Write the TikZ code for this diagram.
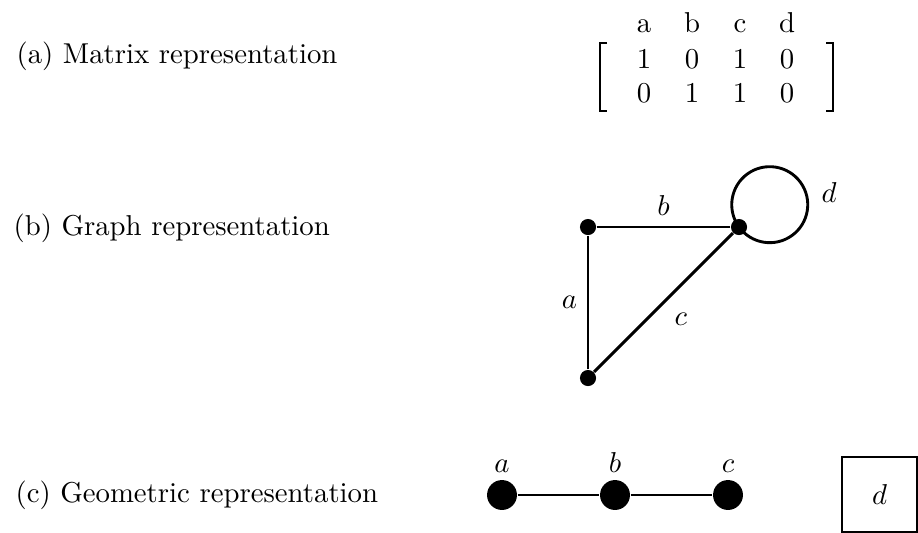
\documentclass[tikz,border=0pt]{standalone}
\usepackage{tikz}
\usetikzlibrary{positioning}

\begin{document}
\begin{tikzpicture}[x=0.3477pt, y=-0.3477pt,
    vertice/.style={circle, fill=black, inner sep=0pt, minimum size=5.6pt},
    punto/.style={circle, fill=black, inner sep=0pt, minimum size=10.4pt},
    arista/.style={line width=1pt},
    intervalo/.style={line width=0.7pt},
    entrada/.style={anchor=base, inner sep=0pt}]
  \useasboundingbox (0,0) rectangle (918,532);
  % Titulos
  \node[anchor=base west, inner sep=0pt] (ta) at (16,63) {(a) Matrix representation};
  \node[anchor=base west, inner sep=0pt] (tb) at (13,235) {(b) Graph representation};
  \node[anchor=base west, inner sep=0pt] (tc) at (15,502) {(c) Geometric representation};
  % Matriz: columna, filas 1 y 2
  \foreach \letra/\uno/\dos/\x in {a/1/0/644, b/0/1/692, c/1/1/740, d/0/0/787} {
    \node[entrada] (m-\letra) at (\x,32) {\letra};
    \node[entrada] (f1-\letra) at (\x,68) {\uno};
    \node[entrada] (f2-\letra) at (\x,102) {\dos};
  }
  \draw[line width=0.6pt] (607,43) -| (600,111) -- (607,111);
  \draw[line width=0.6pt] (826,43) -| (833,111) -- (826,111);
  % Grafo
  \node[vertice] (v1) at (588,227) {};
  \node[vertice] (v2) at (739,227) {};
  \node[vertice] (v3) at (588,378) {};
  \draw[arista] (v3) -- node[left] {$a$} (v1);
  \draw[arista] (v1) -- node[above] {$b$} (v2);
  \draw[arista] (v2) -- node[below right] {$c$} (v3);
  \draw[arista] (v2.center) arc[start angle=144, delta angle=360, radius=38];
  \node (ld) at (829,193) {$d$};
  % Representacion geometrica
  \node[punto, label={[label distance=-1pt]above:$a$}] (g1) at (502,495) {};
  \node[punto, label={[label distance=-1pt]above:$b$}] (g2) at (615,495) {};
  \node[punto, label={[label distance=-1pt]above:$c$}] (g3) at (728,495) {};
  \draw[intervalo] (g1) -- (g2) -- (g3);
  \node[draw, line width=1pt, minimum size=26.1pt, inner sep=0pt] (cd) at (879.5,494.5) {$d$};
\end{tikzpicture}
\end{document}
